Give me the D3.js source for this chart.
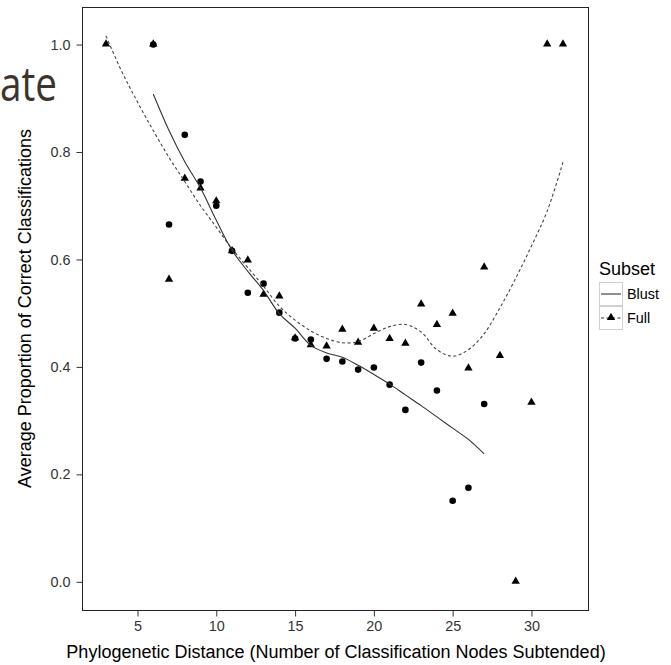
<!DOCTYPE html>
<html>
<head>
<meta charset="utf-8">
<script src="https://cdn.jsdelivr.net/npm/d3@7"></script>
<style>
  body { margin: 0; background: #fff; }
  text { font-family: "Liberation Sans", Arial, Helvetica, sans-serif; }
</style>
</head>
<body>
<div id="chart"></div>
<script>
// Observed averages, one value per distance
const fullDist = [3, 6, 7, 8, 9, 10, 11, 12, 13, 14, 15, 16, 17, 18, 19, 20, 21, 22, 23, 24, 25, 26, 27, 28, 29, 30, 31, 32];
const fullProp = [1.0, 1.0, 0.562, 0.75, 0.732, 0.708, 0.615, 0.598, 0.534, 0.531, 0.453, 0.44, 0.438, 0.469, 0.445, 0.471, 0.452, 0.443, 0.516, 0.478, 0.499, 0.397, 0.585, 0.42, 0.0, 0.333, 1.0, 1.0];

const blustDist = [6, 7, 8, 9, 10, 11, 12, 13, 14, 15, 16, 17, 18, 19, 20, 21, 22, 23, 24, 25, 26, 27];
const blustProp = [1.0, 0.665, 0.832, 0.745, 0.70, 0.616, 0.538, 0.555, 0.501, 0.453, 0.451, 0.415, 0.41, 0.395, 0.399, 0.367, 0.32, 0.408, 0.356, 0.151, 0.175, 0.331];

// Smoothed curves
const fullSmoothDist = [3, 4, 5, 6, 7, 8, 9, 10, 11, 12, 13, 14, 15, 16, 17, 18, 19, 20, 21, 22, 23, 24, 25, 26, 27, 28, 29, 30, 31, 32];
const fullSmoothProp = [1.016, 0.95, 0.893, 0.84, 0.79, 0.745, 0.70, 0.66, 0.62, 0.585, 0.55, 0.513, 0.487, 0.467, 0.453, 0.445, 0.447, 0.462, 0.475, 0.479, 0.465, 0.432, 0.42, 0.432, 0.462, 0.51, 0.565, 0.625, 0.69, 0.781];

const blustSmoothDist = [6, 7, 8, 9, 10, 11, 12, 13, 14, 15, 16, 17, 18, 19, 20, 21, 22, 23, 24, 25, 26, 27];
const blustSmoothProp = [0.908, 0.84, 0.782, 0.733, 0.673, 0.617, 0.578, 0.542, 0.499, 0.472, 0.44, 0.426, 0.418, 0.403, 0.386, 0.368, 0.348, 0.328, 0.307, 0.286, 0.265, 0.238];

const xTicks = [5, 10, 15, 20, 25, 30];
const yTicks = [0.0, 0.2, 0.4, 0.6, 0.8, 1.0];
const subsets = ["Blust", "Full"];

var margin = { top: 7, right: 82, bottom: 55, left: 83 },
  width = 671 - margin.left - margin.right,
  height = 665 - margin.top - margin.bottom;

var svgRoot = d3
  .select("#chart")
  .append("svg")
  .attr("width", 671)
  .attr("height", 665);

// slide text fragment behind the figure
svgRoot
  .append("text")
  .attr("x", 0)
  .attr("y", 101)
  .attr("textLength", 57)
  .attr("lengthAdjust", "spacingAndGlyphs")
  .style("font-family", '"Open Sans", "Noto Sans", sans-serif')
  .style("font-size", "48px")
  .style("fill", "#3a342c")
  .text("ate");

var svg = svgRoot
  .append("g")
  .attr("transform", "translate(" + (margin.left - 0.5) + "," + (margin.top + 0.5) + ")");

var x = d3.scaleLinear().domain([1.51, 33.62]).range([0, width]);
var y = d3.scaleLinear().domain([-0.0534, 1.069]).range([height, 0]);

// X axis
var xAxis = svg
  .append("g")
  .attr("transform", "translate(0," + height + ")")
  .call(d3.axisBottom(x).tickValues(xTicks).tickSize(6).tickPadding(4));
xAxis.select(".domain").remove();
xAxis.selectAll("line").attr("stroke", "#333");
xAxis.selectAll("text").style("font-size", "14.4px").attr("fill", "#333")
  .style("font-family", '"Liberation Sans", Arial, sans-serif');

// Y axis
var yAxis = svg
  .append("g")
  .call(d3.axisLeft(y).tickValues(yTicks).tickFormat(d3.format(".1f")).tickSize(6).tickPadding(6));
yAxis.select(".domain").remove();
yAxis.selectAll("line").attr("stroke", "#333");
yAxis.selectAll("text").style("font-size", "14.4px").attr("fill", "#333")
  .style("font-family", '"Liberation Sans", Arial, sans-serif');

// panel border
svg
  .append("rect")
  .attr("width", width)
  .attr("height", height)
  .attr("fill", "none")
  .attr("stroke", "#222")
  .attr("stroke-width", 1);

// points: circles for Blust, triangles for Full
svg
  .selectAll(".blust")
  .data(blustDist)
  .enter()
  .append("circle")
  .attr("class", "blust")
  .attr("cx", function (d) { return x(d); })
  .attr("cy", function (d, i) { return y(blustProp[i]); })
  .attr("r", 3.3)
  .style("fill", "#000");

var tri = d3.symbol().type(d3.symbolTriangle).size(30);
svg
  .selectAll(".full")
  .data(fullDist)
  .enter()
  .append("path")
  .attr("class", "full")
  .attr("d", tri)
  .attr("transform", function (d, i) {
    return "translate(" + x(d) + "," + (y(fullProp[i]) - 0.5) + ")";
  })
  .style("fill", "#000");

// smooth lines
var line = d3
  .line()
  .x(function (d) { return x(d[0]); })
  .y(function (d) { return y(d[1]); })
  .curve(d3.curveCatmullRom);

svg
  .append("path")
  .datum(blustSmoothDist.map(function (d, i) { return [d, blustSmoothProp[i]]; }))
  .attr("d", line)
  .attr("fill", "none")
  .attr("stroke", "#333")
  .attr("stroke-width", 1.1);

svg
  .append("path")
  .datum(fullSmoothDist.map(function (d, i) { return [d, fullSmoothProp[i]]; }))
  .attr("d", line)
  .attr("fill", "none")
  .attr("stroke", "#444")
  .attr("stroke-width", 1.1)
  .attr("stroke-dasharray", "3,2.5");

// axis titles
svgRoot
  .append("text")
  .attr("x", margin.left + width / 2)
  .attr("y", 658)
  .attr("text-anchor", "middle")
  .style("font-size", "18px")
  .style("fill", "#000")
  .text("Phylogenetic Distance (Number of Classification Nodes Subtended)");

svgRoot
  .append("text")
  .attr("transform", "translate(25," + (margin.top + height / 2) + ") rotate(-90)")
  .attr("text-anchor", "middle")
  .attr("dy", "0.35em")
  .style("font-size", "18px")
  .style("fill", "#000")
  .text("Average Proportion of Correct Classifications");

// legend
var legend = svgRoot.append("g").attr("transform", "translate(599,0)");
legend
  .append("text")
  .attr("x", 0)
  .attr("y", 275)
  .style("font-size", "18px")
  .style("fill", "#000")
  .text("Subset");

var keys = legend
  .selectAll(".key")
  .data(subsets)
  .enter()
  .append("g")
  .attr("class", "key")
  .attr("transform", function (d, i) { return "translate(0," + (282 + i * 24) + ")"; });

keys
  .append("rect")
  .attr("x", 0.5)
  .attr("y", 0.5)
  .attr("width", 23)
  .attr("height", 23)
  .attr("fill", "#fff")
  .attr("stroke", "#d0d0d0");

keys
  .append("line")
  .attr("x1", 2)
  .attr("x2", 22)
  .attr("y1", 12)
  .attr("y2", 12)
  .attr("stroke", "#333")
  .attr("stroke-width", 1.1)
  .attr("stroke-dasharray", function (d) { return d === "Full" ? "3,2.5" : null; });

keys
  .filter(function (d) { return d === "Full"; })
  .append("path")
  .attr("d", tri)
  .attr("transform", "translate(12,11.5)")
  .style("fill", "#000");

keys
  .append("text")
  .attr("x", 28)
  .attr("y", 12)
  .attr("dy", "0.35em")
  .style("font-size", "14.4px")
  .style("fill", "#000")
  .text(function (d) { return d; });
</script>
</body>
</html>
